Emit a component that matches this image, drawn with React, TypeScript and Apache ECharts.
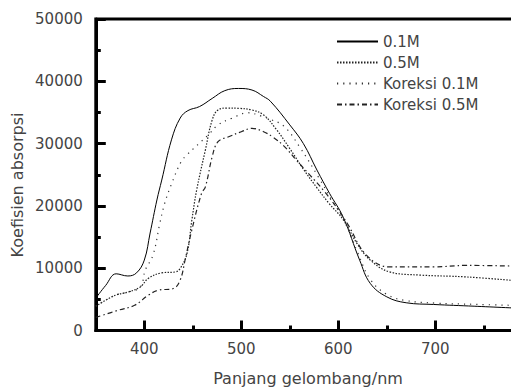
import React, { useEffect, useRef } from "react";
import * as echarts from "echarts";

const FONT = '"DejaVu Sans", sans-serif';

const seriesNames = ["0.1M", "0.5M", "Koreksi 0.1M", "Koreksi 0.5M"];

const wl01 = [350, 360, 371, 383, 392, 400, 406, 413, 418, 428, 437, 445, 457, 470, 483, 497, 511, 523, 530, 550, 564, 578, 591, 605, 622, 633, 650, 670, 698, 740, 790];
const v01 = [5200, 7200, 9100, 8750, 9250, 11300, 15650, 20950, 24150, 30600, 34100, 35300, 35950, 37250, 38500, 38850, 38600, 37550, 36800, 33000, 30000, 25750, 22000, 18200, 11300, 7550, 5400, 4450, 4180, 3900, 3550];

const wl05 = [350, 370, 384, 396, 404, 418, 432, 437, 444, 449, 454, 463, 470, 476, 485, 498, 511, 523, 536, 550, 564, 578, 591, 605, 620, 633, 653, 684, 732, 790];
const v05 = [3900, 5650, 6200, 7000, 8350, 9250, 9400, 9950, 12350, 17700, 22550, 29000, 33800, 35400, 35700, 35650, 35400, 34600, 32300, 29200, 25900, 22900, 20300, 17800, 13800, 11300, 9400, 8900, 8600, 7900];

const wlK01 = [350, 370, 384, 396, 401, 409, 416, 421, 428, 438, 444, 466, 476, 490, 507, 521, 530, 544, 560, 580, 595, 605, 620, 633, 650, 670, 700, 740, 790];
const vK01 = [3900, 5650, 6200, 7000, 9700, 12100, 17200, 20400, 23500, 27100, 28200, 31400, 33000, 34050, 34950, 34400, 33900, 32800, 29500, 24500, 20500, 18000, 12500, 8200, 5800, 4800, 4400, 4200, 4000];

const wlK05 = [350, 373, 390, 404, 414, 430, 437, 442, 449, 459, 463, 470, 476, 487, 500, 511, 523, 533, 544, 557, 571, 585, 598, 610, 629, 653, 698, 732, 790];
const vK05 = [2100, 3250, 4050, 5650, 6450, 6750, 8100, 11300, 16150, 22000, 23050, 27900, 30300, 31100, 31900, 32450, 31900, 31000, 29600, 27300, 24900, 22450, 19800, 17000, 12100, 10200, 10200, 10450, 10300];

const yTicks = { min: 0, max: 50000, interval: 10000 };
const xRange = { min: 350, max: 800, step: 100 };

const pairs = (xs: number[], ys: number[]) => xs.map((x, i) => [x, ys[i]]);

export default function App() {
  const ref = useRef<HTMLDivElement>(null);
  useEffect(() => {
    if (!ref.current) return;
    const chart = echarts.init(ref.current, null, { renderer: "svg" });
    const lineStyles: any[] = [
      { color: "#000", width: 1, type: "solid" },
      { color: "#222", width: 1.2, type: [1.5, 1.5] },
      { color: "#333", width: 1.2, type: [1.2, 5] },
      { color: "#222", width: 1.2, type: [5, 3, 1.5, 3] },
    ];
    const datasets = [pairs(wl01, v01), pairs(wl05, v05), pairs(wlK01, vK01), pairs(wlK05, vK05)];
    chart.setOption({
      animation: false,
      backgroundColor: "#fff",
      grid: {
        left: 95.8,
        top: 19,
        right: 7.7,
        bottom: 58.5,
        show: true,
        borderColor: "#000",
        borderWidth: 3,
        backgroundColor: "transparent",
      },
      legend: {
        orient: "vertical",
        left: 331,
        top: 29,
        itemWidth: 41,
        itemHeight: 12,
        itemGap: 6,
        itemTextGap: 4,
        data: seriesNames,
        itemStyle: { opacity: 0 },
        textStyle: { fontSize: 15, color: "#444", fontFamily: FONT },
      },
      xAxis: {
        type: "value",
        min: xRange.min,
        max: xRange.max,
        minInterval: xRange.step,
        maxInterval: xRange.step,
        splitLine: { show: false },
        axisLine: { show: true, lineStyle: { color: "#000", width: 3 } },
        axisTick: { show: true, inside: true, length: 10, lineStyle: { color: "#000", width: 3 } },
        minorTick: { show: true, splitNumber: 2, length: 5, lineStyle: { color: "#000", width: 3 } },
        axisLabel: {
          margin: 11,
          fontSize: 15,
          color: "#444",
          fontFamily: FONT,
          showMinLabel: false,
          showMaxLabel: false,
        },
      },
      yAxis: {
        type: "value",
        min: yTicks.min,
        max: yTicks.max,
        interval: yTicks.interval,
        splitLine: { show: false },
        axisLine: { show: true, lineStyle: { color: "#000", width: 3 } },
        axisTick: { show: true, inside: true, length: 10, lineStyle: { color: "#000", width: 3 } },
        minorTick: { show: true, splitNumber: 2, length: 5, lineStyle: { color: "#000", width: 3 } },
        axisLabel: {
          margin: 13,
          fontSize: 15,
          color: "#444",
          fontFamily: FONT,
          formatter: (v: number) => String(v),
        },
      },
      graphic: [
        {
          type: "text",
          x: 17,
          y: 185,
          rotation: Math.PI / 2,
          style: {
            text: "Koefisien absorpsi",
            fontSize: 16,
            fontFamily: FONT,
            fill: "#444",
            align: "center",
            verticalAlign: "middle",
          },
        },
        {
          type: "text",
          x: 308,
          y: 378,
          style: {
            text: "Panjang gelombang/nm",
            fontSize: 16,
            fontFamily: FONT,
            fill: "#444",
            align: "center",
            verticalAlign: "middle",
          },
        },
      ],
      series: seriesNames.map((name, i) => ({
        name,
        type: "line",
        data: datasets[i],
        smooth: 0.4,
        symbol: "none",
        lineStyle: lineStyles[i],
        itemStyle: { color: lineStyles[i].color },
        clip: true,
      })),
    });
    return () => chart.dispose();
  }, []);
  return (
    <div
      ref={ref}
      style={{ position: "fixed", left: 0, top: 0, width: 540, height: 389 }}
    />
  );
}
